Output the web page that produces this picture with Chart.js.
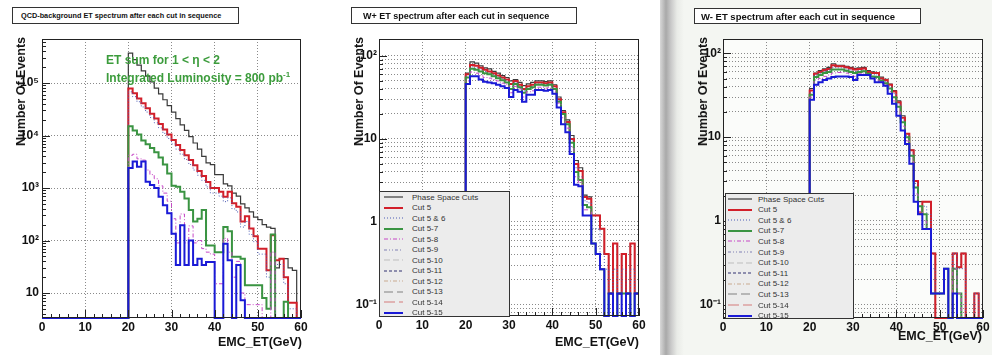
<!DOCTYPE html>
<html>
<head>
<meta charset="utf-8">
<script src="https://cdn.jsdelivr.net/npm/chart.js@4.4.1/dist/chart.umd.min.js"></script>
<style>
  body { margin: 0; width: 992px; height: 355px; overflow: hidden; background: #fff; position: relative;
         font-family: "Liberation Sans", Arial, sans-serif; color: #111; }
  canvas { position: absolute; top: 0; }
  .fold { position: absolute; left: 660px; top: 0; width: 332px; height: 355px;
          background: linear-gradient(to right, #d8d8d8 0, #a9a9a9 6px, #c9c9c9 11px, #e9ebe7 17px, #f4f6f2 24px); }
  .title { position: absolute; background: #fff; border: 1px solid #333; box-sizing: border-box;
           font-weight: bold; white-space: nowrap; display: flex; align-items: center; }
  .ytitle { position: absolute; writing-mode: vertical-rl; transform: rotate(180deg); text-align: end;
            font-weight: bold; font-size: 12.5px; white-space: nowrap; height: 112px; line-height: 14px; }
  .xtitle { position: absolute; font-weight: bold; font-size: 12.5px; white-space: nowrap; text-align: right; width: 120px; }
  .note { position: absolute; font-weight: bold; font-size: 12px; color: #3c9c3c; white-space: nowrap; }
  .legend { position: absolute; background: #ececec; border: 1px solid #333; box-sizing: border-box; }
  .legend .row { position: absolute; left: 0; height: 10px; display: flex; align-items: center;
                 font-size: 8px; color: #333; white-space: nowrap; }
  .legend svg { display: block; }
</style>
</head>
<body>
<div class="fold"></div>
<canvas id="qcd" width="330" height="355" style="left:0"></canvas>
<canvas id="wplus" width="330" height="355" style="left:330px"></canvas>
<canvas id="wminus" width="332" height="355" style="left:660px"></canvas>

<div class="title" style="left:12px;top:7px;width:227px;height:17px;font-size:7.3px;padding-left:8px">QCD-background ET spectrum after each cut in sequence</div>
<div class="title" style="left:351px;top:7px;width:226px;height:17px;font-size:9px;padding-left:11px">W+ ET spectrum after each cut in sequence</div>
<div class="title" style="left:694px;top:8px;width:227px;height:16px;font-size:9.5px;padding-left:6px">W- ET spectrum after each cut in sequence</div>

<div class="ytitle" style="left:14px;top:37px">Number Of Events</div>
<div class="ytitle" style="left:352px;top:37px">Number Of Events</div>
<div class="ytitle" style="left:696px;top:37px">Number Of Events</div>

<div class="xtitle" style="left:182px;top:335px">EMC_ET(GeV)</div>
<div class="xtitle" style="left:519px;top:335px">EMC_ET(GeV)</div>
<div class="xtitle" style="left:862px;top:329px">EMC_ET(GeV)</div>

<div class="note" style="left:106px;top:53px">ET sum for 1 &lt; &eta; &lt; 2</div>
<div class="note" style="left:106px;top:70px">Integrated Luminosity = 800 pb<sup style="font-size:8px">-1</sup></div>

<div class="legend" id="legWplus" style="left:379px;top:191px;width:131px;height:126px"></div>
<div class="legend" id="legWminus" style="left:725px;top:193px;width:129px;height:126px"></div>

<script>
// bins are 1 GeV wide, lower edges 20..59 (everything below 20 is empty)
const binLowEdges = [20, 21, 22, 23, 24, 25, 26, 27, 28, 29, 30, 31, 32, 33, 34, 35, 36, 37, 38, 39,
                     40, 41, 42, 43, 44, 45, 46, 47, 48, 49, 50, 51, 52, 53, 54, 55, 56, 57, 58, 59];
const xTickValues = [0, 10, 20, 30, 40, 50, 60];

const cutLabels = ["Phase Space Cuts", "Cut 5", "Cut 5 & 6", "Cut 5-7", "Cut 5-8", "Cut 5-9",
                   "Cut 5-10", "Cut 5-11", "Cut 5-12", "Cut 5-13", "Cut 5-14", "Cut 5-15"];

// QCD background
const qcdPhaseSpace = [370000, 280000, 220000, 170000, 135000, 105000, 80000, 62000, 48000, 37000,
                       28000, 21000, 16000, 12500, 9500, 7200, 5500, 4000, 3000, 2800,
                       1800, 1800, 1200, 1100, 800, 700, 500, 420, 350, 280,
                       250, 200, 180, 170, 30, 45, 45, 30, 27, 0];
const qcdCut5 = [79000, 64000, 51000, 41000, 33000, 26000, 21000, 16500, 13000, 10500,
                 8200, 6600, 5300, 4200, 3400, 2700, 2100, 1700, 1300, 1000,
                 1000, 850, 680, 850, 510, 440, 230, 290, 170, 120,
                 70, 70, 27, 126, 42, 45, 20, 6.5, 6.5, 0];
const qcdCut5and6 = [68000, 55000, 44000, 35000, 28000, 22000, 17500, 14000, 11000, 8800,
                     6900, 5500, 4400, 3500, 2800, 2200, 1750, 1400, 1050, 800,
                     800, 700, 550, 650, 400, 350, 180, 230, 130, 95,
                     55, 55, 20, 100, 35, 35, 15, 5, 5, 0];
const qcdCut5to7 = [15000, 12500, 10500, 8000, 6800, 5800, 4800, 3800, 2800, 1900,
                    1100, 1060, 850, 630, 380, 230, 260, 380, 80, 80,
                    60, 60, 180, 150, 49, 49, 45, 14, 14, 14,
                    14, 8, 5, 130, 0, 0, 6.8, 0, 0, 0];
const qcdCut5to8 = [4200, 4400, 3600, 3400, 2200, 1800, 1500, 1100, 800, 560,
                    260, 90, 320, 90, 190, 90, 100, 70, 60, 55,
                    15, 15, 110, 60, 20, 40, 10, 6, 6, 6,
                    6, 0, 0, 60, 0, 0, 0, 0, 0, 0];
const qcdCut5to15 = [2400, 3200, 2550, 3200, 1320, 1140, 1000, 680, 470, 330,
                     135, 34, 196, 34, 100, 34, 45, 34, 39, 39,
                     0, 0, 87, 42, 0, 34, 7.3, 0, 0, 0,
                     0, 0, 0, 0, 0, 0, 0, 0, 0, 0];

// W+
const wpPhaseSpace = [62, 85, 82, 76, 72, 70, 65, 62, 58, 55, 50, 52, 48, 44, 46, 48, 50, 50, 49, 50,
                      45, 32, 22, 17, 11, 5.5, 4.5, 2.1, 2.0, 1.2, 1.2, 0.83, 0.41, 0.137, 0.55, 0.137, 0.41, 0.137, 0.55, 0.137];
const wpCut5 = [60, 78, 76, 72, 68, 65, 62, 58, 55, 52, 46, 50, 45, 40, 43, 45, 48, 48, 47, 48,
                43, 30, 21, 16, 10, 5.0, 4.1, 2.0, 1.9, 1.2, 1.2, 0.83, 0.41, 0.137, 0.55, 0.137, 0.41, 0.137, 0.55, 0.137];
const wpCut5and6 = [57, 74, 72, 68, 65, 62, 59, 56, 53, 50, 43, 48, 43, 38, 41, 43, 46, 46, 45, 46,
                    41, 29, 20, 15, 9.5, 4.5, 3.5, 1.8, 1.7, 0.83, 0.83, 0.41, 0.27, 0.137, 0.27, 0.137, 0.27, 0.137, 0.27, 0.137];
const wpCut5to7 = [55, 70, 68, 65, 62, 60, 57, 54, 51, 48, 40, 46, 42, 36, 40, 42, 45, 45, 44, 45,
                   40, 28, 20, 15, 9, 4.0, 3.2, 1.6, 1.5, 0.55, 0.41, 0.27, 0, 0.137, 0, 0.137, 0.137, 0.137, 0, 0.137];
const wpCut5to8 = [50, 64, 62, 58, 55, 54, 52, 50, 47, 45, 36, 43, 40, 32, 37, 38, 42, 42, 41, 42,
                   37, 27, 18, 13.5, 8, 3.5, 3, 1.4, 1.4, 0.55, 0.41, 0.27, 0, 0.137, 0, 0.137, 0, 0.137, 0, 0.137];
const wpCut5to15 = [46, 57, 57, 52, 49, 48, 47, 45, 43, 41, 32, 39, 37, 28, 34, 34, 39, 39, 38, 39,
                    35, 24, 15, 12, 6.6, 2.8, 2.7, 1.2, 1.2, 0.55, 0.41, 0.27, 0, 0.137, 0, 0.137, 0, 0.137, 0, 0.137];

// W-
const wmPhaseSpace = [38, 58, 62, 65, 68, 75, 72, 72, 70, 68, 66, 67, 68, 62, 60, 58, 52, 49, 43, 36,
                      27, 18, 11, 7, 3.0, 1.7, 1.7, 1.7, 0.41, 0, 0, 0, 0, 0.41, 0.28, 0.41, 0, 0, 0.137, 0];
const wmCut5 = [36, 57, 60, 63, 65, 72, 70, 70, 68, 66, 64, 65, 66, 60, 58, 58, 50, 48, 42, 35,
                26, 17, 11, 7, 3.0, 1.24, 1.7, 1.7, 0.41, 0, 0, 0, 0, 0.41, 0.28, 0.41, 0, 0, 0.137, 0];
const wmCut5and6 = [34, 55, 58, 61, 63, 68, 67, 67, 65, 63, 61, 62, 63, 58, 56, 55, 48, 46, 40, 33,
                    25, 16, 10.5, 6.5, 2.8, 1.2, 1.5, 1.2, 0.27, 0.137, 0.137, 0.27, 0, 0.41, 0.27, 0.27, 0, 0, 0.137, 0];
const wmCut5to7 = [32, 52, 55, 58, 60, 64, 64, 64, 62, 60, 58, 60, 61, 57, 53, 52, 47, 44, 38, 30,
                   23, 15, 10, 6, 2.5, 1.5, 1.2, 0.8, 0.137, 0.137, 0.137, 0.27, 0, 0.27, 0.137, 0, 0, 0, 0, 0];
const wmCut5to8 = [30, 48, 50, 53, 55, 58, 59, 59, 58, 56, 53, 57, 58, 55, 50, 48, 46, 42, 35, 27,
                   20, 13.5, 9, 5.5, 2.1, 1.3, 1.0, 0.8, 0.137, 0.137, 0.137, 0.27, 0, 0.27, 0.137, 0, 0, 0, 0, 0];
const wmCut5to15 = [28, 42, 45, 48, 50, 52, 53, 53, 53, 52, 48, 55, 55, 55, 50, 45, 45, 41, 33, 25,
                    18, 12, 8.3, 4.8, 1.7, 1.2, 0.8, 0.8, 0.137, 0.137, 0.137, 0.27, 0, 0.137, 0, 0, 0, 0, 0, 0];

const qcdYTickValues = [10, 100, 1000, 10000, 100000];
const qcdYTickLabels = ["10", "10\u00b2", "10\u00b3", "10\u2074", "10\u2075"];
const wYTickValues = [0.1, 1, 10, 100];
const wYTickLabels = ["10\u207b\u00b9", "1", "10", "10\u00b2"];

// line styles, same order as cutLabels
const cutStyles = [
  { color: "#3a3a3a", width: 1.2, dash: [] },
  { color: "#d21f2a", width: 2, dash: [] },
  { color: "#4d5db5", width: 1, dash: [1, 2] },
  { color: "#3a9442", width: 2, dash: [] },
  { color: "#c648c6", width: 1, dash: [4, 2, 1, 2] },
  { color: "#8080b4", width: 1, dash: [3, 2, 1, 2, 1, 2] },
  { color: "#bdbdbd", width: 1, dash: [6, 3] },
  { color: "#303070", width: 1, dash: [3, 2] },
  { color: "#c9aa90", width: 1, dash: [4, 2, 1, 2] },
  { color: "#808080", width: 1, dash: [9, 4] },
  { color: "#d47a7a", width: 1, dash: [11, 4] },
  { color: "#1a1ad6", width: 2, dash: [] }
];

const FONT = '"Liberation Sans", Arial, sans-serif';

function histPoints(values, floor) {
  const pts = [{ x: 0, y: floor }];
  values.forEach((v, i) => pts.push({ x: binLowEdges[i], y: v > 0 ? v : floor }));
  const last = values[values.length - 1];
  pts.push({ x: 60, y: last > 0 ? last : floor });
  return pts;
}

function logGrid(min, max) {
  const out = [];
  for (let e = -2; e <= 6; e++) {
    for (let m = 1; m <= 9; m++) {
      const v = m * Math.pow(10, e);
      if (v >= min && v <= max) out.push(v);
    }
  }
  return out;
}

function isDecade(v) {
  return Math.abs(Math.log10(v) - Math.round(Math.log10(v))) < 1e-6;
}

const rootFrame = {
  id: 'rootFrame',
  beforeDatasetsDraw(chart, args, opts) {
    const { ctx, chartArea: a } = chart;
    ctx.save();
    ctx.fillStyle = opts.fill;
    ctx.globalCompositeOperation = 'destination-over';
    ctx.fillRect(a.left, a.top, a.width, a.height);
    ctx.restore();
  },
  afterDatasetsDraw(chart, args, opts) {
    const { ctx, chartArea: a, scales } = chart;
    const x = scales.x, y = scales.y;
    ctx.save();
    ctx.strokeStyle = '#222';
    ctx.lineWidth = 1;
    ctx.beginPath();
    for (let v = 0; v <= 60; v += 2) {
      const px = Math.round(x.getPixelForValue(v)) + 0.5;
      const len = v % 10 === 0 ? 8 : 4;
      ctx.moveTo(px, a.bottom);
      ctx.lineTo(px, a.bottom - len);
    }
    opts.yTicks.forEach(v => {
      const py = Math.round(y.getPixelForValue(v)) + 0.5;
      const len = isDecade(v) ? 8 : 4;
      ctx.moveTo(a.left, py);
      ctx.lineTo(a.left + len, py);
    });
    ctx.stroke();
    ctx.strokeRect(a.left + 0.5, a.top + 0.5, a.width - 1, a.height - 1);
    ctx.restore();
  }
};

function makePanel(id, cfg) {
  const datasets = cfg.series.map(([c, values]) => ({
    label: cutLabels[c],
    data: histPoints(values, cfg.yMin),
    stepped: true,
    borderColor: cutStyles[c].color,
    borderWidth: cutStyles[c].width,
    borderDash: cutStyles[c].dash,
    pointRadius: 0,
    fill: false,
    clip: 4,
    order: 11 - c
  }));
  const minorTicks = logGrid(cfg.yMin, cfg.yMax);
  const gridTicks = cfg.minorGrid ? minorTicks : cfg.yTickValues;

  new Chart(document.getElementById(id), {
    type: 'line',
    data: { datasets },
    plugins: [rootFrame],
    options: {
      responsive: false,
      animation: false,
      events: [],
      layout: { padding: { top: 39, right: cfg.padRight, left: 0, bottom: 0 } },
      plugins: {
        legend: { display: false },
        tooltip: { enabled: false },
        rootFrame: { yTicks: minorTicks, fill: cfg.fill }
      },
      scales: {
        x: {
          type: 'linear', min: 0, max: 60,
          afterBuildTicks: s => { s.ticks = xTickValues.map(v => ({ value: v })); },
          afterFit: s => { s.height = cfg.axisH; },
          ticks: { padding: 2, color: '#111', autoSkip: false, maxRotation: 0,
                   font: { family: FONT, size: 12, weight: 'bold' } },
          grid: { drawTicks: false, lineWidth: 1,
                  color: c => (c.tick && c.tick.value > 0 && c.tick.value < 60) ? '#8a8a8a' : 'rgba(0,0,0,0)' },
          border: { display: false, dash: [1, 2] }
        },
        y: {
          type: 'logarithmic', min: cfg.yMin, max: cfg.yMax,
          afterBuildTicks: s => { s.ticks = gridTicks.map(v => ({ value: v })); },
          afterFit: s => { s.width = cfg.axisW; },
          ticks: {
            padding: cfg.labelPad, color: '#111', autoSkip: false,
            font: { family: FONT, size: 12, weight: 'bold' },
            callback: v => {
              const i = cfg.yTickValues.findIndex(t => Math.abs(Math.log10(t) - Math.log10(v)) < 1e-6);
              return i >= 0 ? cfg.yTickLabels[i] : '';
            }
          },
          grid: { drawTicks: false, lineWidth: 1, color: '#8a8a8a' },
          border: { display: false, dash: [1, 2] }
        }
      }
    }
  });
}

function makeLegend(id, rows) {
  const box = document.getElementById(id);
  cutLabels.forEach((label, c) => {
    const s = cutStyles[c];
    const row = document.createElement('div');
    row.className = 'row';
    row.style.top = (rows.top + rows.step * c - 5) + 'px';
    const svg = `<svg width="${rows.sampleW}" height="8" style="margin-left:${rows.sampleX}px">
      <line x1="0" y1="4" x2="${rows.sampleW}" y2="4" stroke="${s.color}" stroke-width="${s.width}"
        stroke-dasharray="${s.dash.join(' ')}"/></svg>`;
    row.innerHTML = svg + `<span style="margin-left:${rows.textGap}px">${label}</span>`;
    box.appendChild(row);
  });
}

makePanel('qcd', {
  series: [[0, qcdPhaseSpace], [1, qcdCut5], [2, qcdCut5and6], [3, qcdCut5to7], [4, qcdCut5to8], [11, qcdCut5to15]],
  yMin: 3.34, yMax: 690000, yTickValues: qcdYTickValues, yTickLabels: qcdYTickLabels,
  minorGrid: false, axisW: 42, axisH: 37, padRight: 29, labelPad: 3, fill: '#ffffff'
});
makePanel('wplus', {
  series: [[0, wpPhaseSpace], [1, wpCut5], [2, wpCut5and6], [3, wpCut5to7], [4, wpCut5to8], [11, wpCut5to15]],
  yMin: 0.0736, yMax: 160, yTickValues: wYTickValues, yTickLabels: wYTickLabels,
  minorGrid: true, axisW: 49, axisH: 39, padRight: 21, labelPad: 2, fill: '#ffffff'
});
makePanel('wminus', {
  series: [[0, wmPhaseSpace], [1, wmCut5], [2, wmCut5and6], [3, wmCut5to7], [4, wmCut5to8], [11, wmCut5to15]],
  yMin: 0.0697, yMax: 148, yTickValues: wYTickValues, yTickLabels: wYTickLabels,
  minorGrid: true, axisW: 63, axisH: 37, padRight: 9, labelPad: 2, fill: '#fbfcfa'
});

makeLegend('legWplus', { top: 5, step: 10.5, sampleX: 4, sampleW: 19, textGap: 9 });
makeLegend('legWminus', { top: 5, step: 10.6, sampleX: 2, sampleW: 24, textGap: 6 });
</script>
</body>
</html>
